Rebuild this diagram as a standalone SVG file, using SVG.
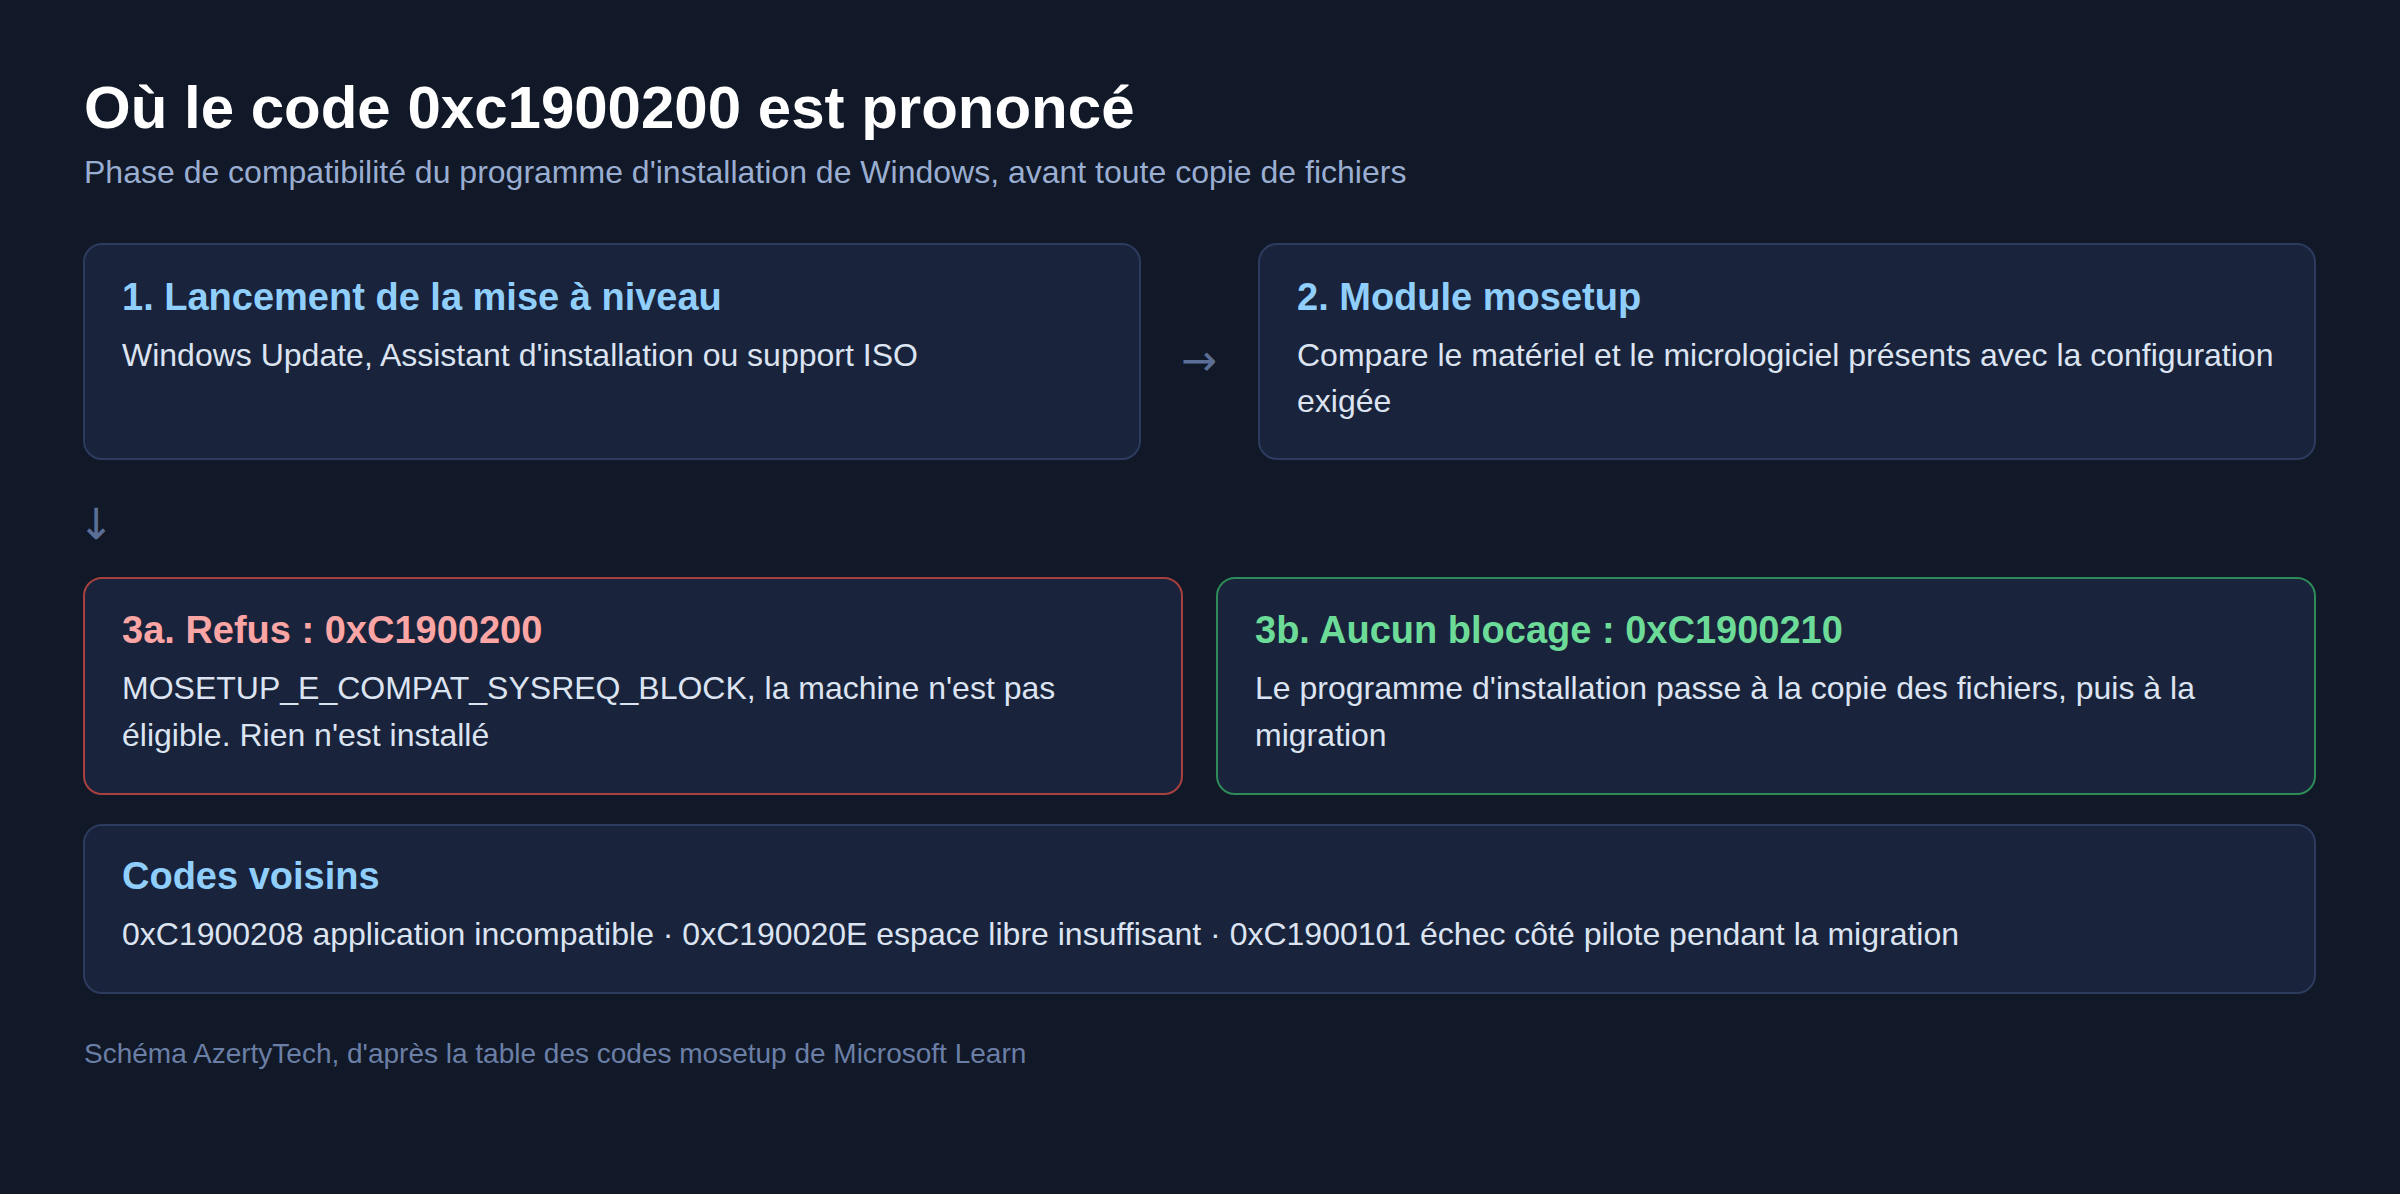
<svg xmlns="http://www.w3.org/2000/svg" width="2400" height="1194" viewBox="0 0 2400 1194">
<style>
text{font-family:"Liberation Sans",Arial,sans-serif}
.box{fill:#19233b;stroke:#2c3b5e;stroke-width:2}
.red{stroke:#a8403f}
.green{stroke:#2e8b57}
.h{font-weight:bold;font-size:38px;fill:#90cffb}
.d{font-size:32px;fill:#dce4f2}
.arr{font-size:43px;fill:#5b6f96;font-family:"DejaVu Sans",sans-serif}
</style>
<rect width="2400" height="1194" fill="#111827"/>
<text x="84" y="128" font-size="60" font-weight="bold" fill="#ffffff">Où le code 0xc1900200 est prononcé</text>
<text x="84" y="183" font-size="32" fill="#9aaed2">Phase de compatibilité du programme d'installation de Windows, avant toute copie de fichiers</text>
<g id="connectors">
<text class="arr" x="1199" y="375" text-anchor="middle">→</text>
<text class="arr" x="96" y="539" text-anchor="middle">↓</text>
</g>
<g id="n1">
<rect class="box" x="84" y="244" width="1056" height="215" rx="18"/>
<text class="h" x="122" y="310">1. Lancement de la mise à niveau</text>
<text class="d" x="122" y="366">Windows Update, Assistant d'installation ou support ISO</text>
</g>
<g id="n2">
<rect class="box" x="1259" y="244" width="1056" height="215" rx="18"/>
<text class="h" x="1297" y="310">2. Module mosetup</text>
<text class="d" x="1297" y="366">Compare le matériel et le micrologiciel présents avec la configuration</text>
<text class="d" x="1297" y="412">exigée</text>
</g>
<g id="n3a">
<rect class="box red" x="84" y="578" width="1098" height="216" rx="18"/>
<text class="h" x="122" y="643" style="fill:#fca5a5">3a. Refus : 0xC1900200</text>
<text class="d" x="122" y="699">MOSETUP_E_COMPAT_SYSREQ_BLOCK, la machine n'est pas</text>
<text class="d" x="122" y="746">éligible. Rien n'est installé</text>
</g>
<g id="n3b">
<rect class="box green" x="1217" y="578" width="1098" height="216" rx="18"/>
<text class="h" x="1255" y="643" style="fill:#6ddb98">3b. Aucun blocage : 0xC1900210</text>
<text class="d" x="1255" y="699">Le programme d'installation passe à la copie des fichiers, puis à la</text>
<text class="d" x="1255" y="746">migration</text>
</g>
<g id="codes">
<rect class="box" x="84" y="825" width="2231" height="168" rx="18"/>
<text class="h" x="122" y="889">Codes voisins</text>
<text class="d" x="122" y="945">0xC1900208 application incompatible · 0xC190020E espace libre insuffisant · 0xC1900101 échec côté pilote pendant la migration</text>
</g>
<text x="84" y="1063" font-size="28" fill="#6b7fa6">Schéma AzertyTech, d'après la table des codes mosetup de Microsoft Learn</text>
</svg>
